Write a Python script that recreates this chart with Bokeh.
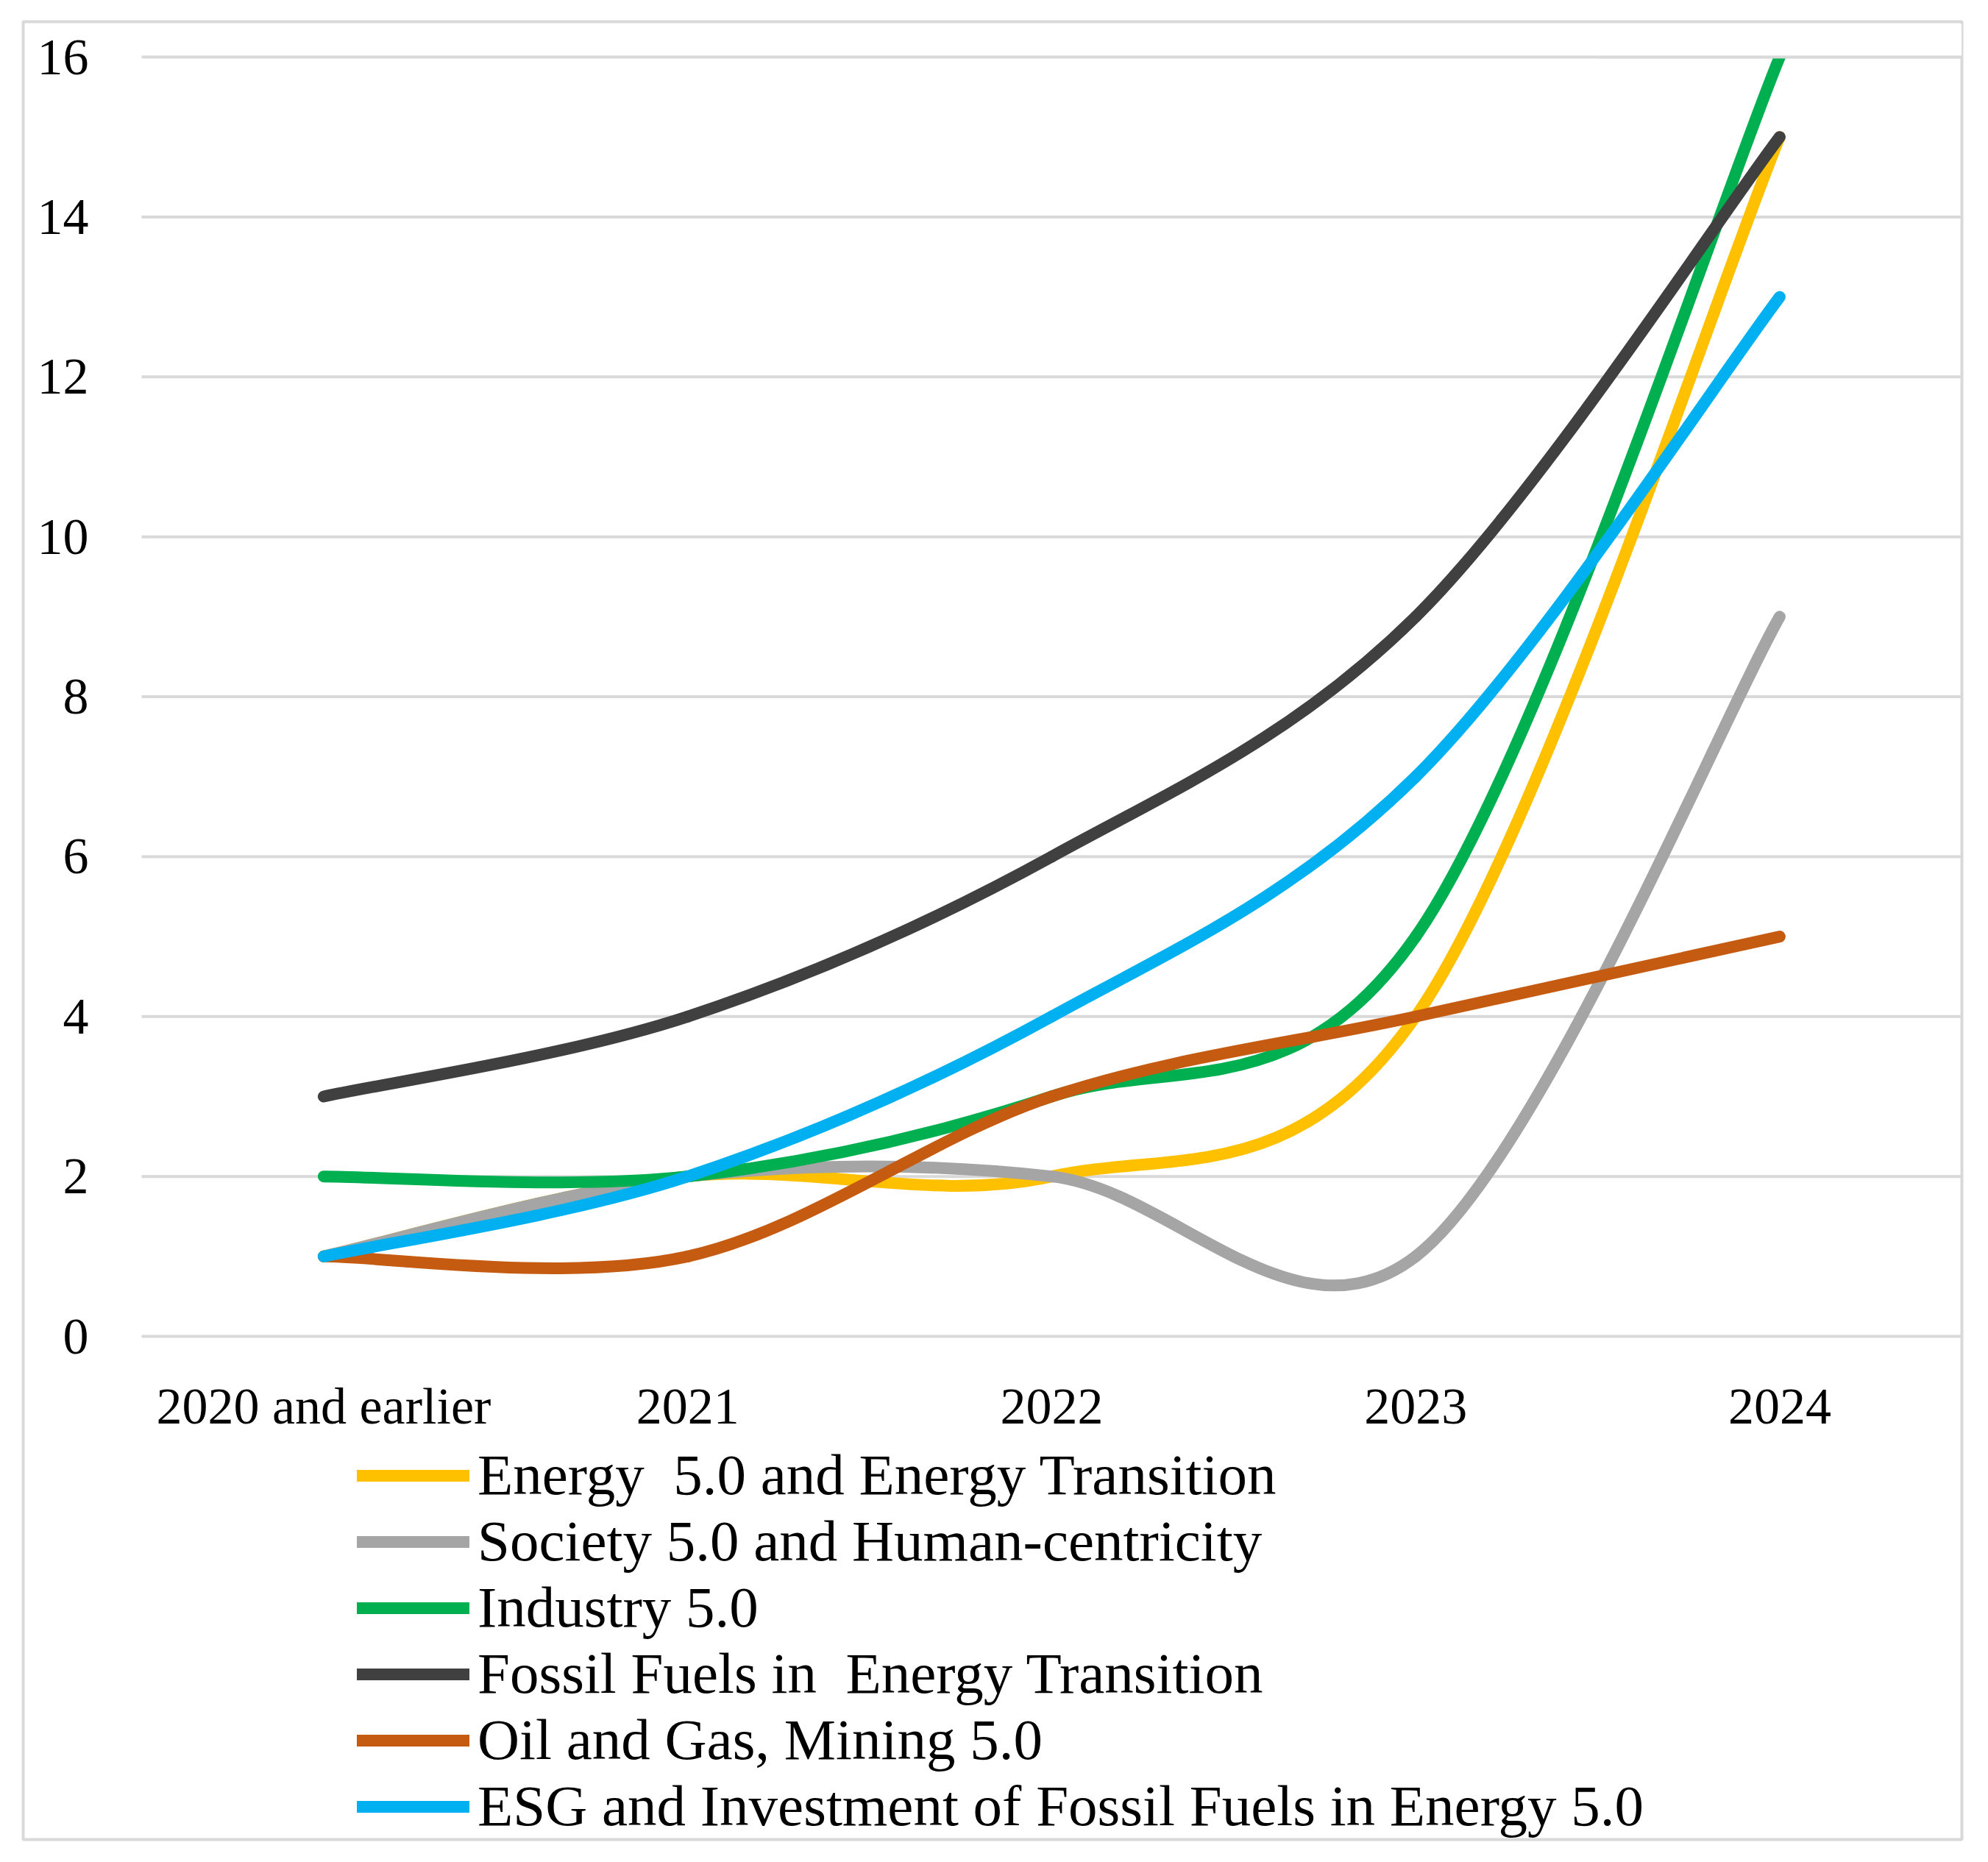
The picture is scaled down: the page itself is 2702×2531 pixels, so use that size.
from bokeh.plotting import figure
from bokeh.models import (Range1d, FixedTicker, Legend, LegendItem, ColumnDataSource,
                          BoxAnnotation)
from bokeh.embed import file_html
from bokeh.resources import INLINE

categories = ["2020 and earlier", "2021", "2022", "2023", "2024"]
series_names = [
    "Energy  5.0 and Energy Transition",
    "Society 5.0 and Human-centricity",
    "Industry 5.0",
    "Fossil Fuels in  Energy Transition",
    "Oil and Gas, Mining 5.0",
    "ESG and Investment of Fossil Fuels in Energy 5.0",
]
energy = [1, 2, 2, 4, 15]
society = [1, 2, 2, 1, 9]
industry = [2, 2, 3, 5, 16]
fossil = [3, 4, 6, 9, 15]
oil_gas = [1, 1, 3, 4, 5]
esg = [1, 2, 4, 7, 13]
colors = ["#FFC000", "#A5A5A5", "#00B050", "#404040", "#C55A11", "#00B0F0"]
y_ticks = [0, 2, 4, 6, 8, 10, 12, 14, 16]

all_series = [energy, society, industry, fossil, oil_gas, esg]

FONT = "Liberation Serif"

# layout constants (pixels)
W, H = 2690, 2515
FL, FT, FR, FB = 31, 29, 2666, 2500          # chart-area box inside the figure
PX_PER_CAT = 494.75
PX_PER_UNIT = 108.69
PLOT_LEFT_OFFSET = 161                        # from box left to first half-category
PLOT_TOP_OFFSET = 48                          # from box top to y=16

n = len(categories)
x_start = -0.5 - PLOT_LEFT_OFFSET / PX_PER_CAT
x_end = x_start + (FR - FL) / PX_PER_CAT
y_top = max(y_ticks)
y_end = y_top + PLOT_TOP_OFFSET / PX_PER_UNIT
y_start = y_end - (FB - FT) / PX_PER_UNIT

p = figure(width=W, height=H, output_backend="svg", toolbar_location=None,
           x_range=Range1d(x_start, x_end), y_range=Range1d(y_start, y_end),
           min_border_left=FL, min_border_top=FT, min_border_right=W - FR,
           min_border_bottom=H - FB)
p.outline_line_color = "#D9D9D9"
p.outline_line_width = 4
p.background_fill_color = "white"
p.border_fill_color = "white"
p.grid.visible = False

# axes drawn inside the chart box
p.xaxis.ticker = FixedTicker(ticks=list(range(n)))
p.xaxis.major_label_overrides = {i: c for i, c in enumerate(categories)}
p.yaxis.ticker = FixedTicker(ticks=y_ticks)
p.xaxis.fixed_location = 0
p.yaxis.fixed_location = -0.5
for ax in (p.xaxis[0], p.yaxis[0]):
    ax.axis_line_color = None
    ax.major_tick_line_color = None
    ax.minor_tick_line_color = None
    ax.major_tick_out = 0
    ax.major_tick_in = 0
    ax.major_label_text_font = FONT
    ax.major_label_text_font_size = "70px"
    ax.major_label_text_color = "#000000"
p.yaxis.major_label_standoff = 72
p.xaxis.major_label_standoff = 56

# smoothed lines (Excel-style Bezier segments)
def bezier_segments(vals):
    m = len(vals)
    xs = list(range(m))
    d = dict(x0=[], y0=[], x1=[], y1=[], cx0=[], cy0=[], cx1=[], cy1=[])
    for i in range(m - 1):
        im1 = max(i - 1, 0)
        ip2 = min(i + 2, m - 1)
        d["x0"].append(xs[i]); d["y0"].append(vals[i])
        d["x1"].append(xs[i + 1]); d["y1"].append(vals[i + 1])
        d["cx0"].append(xs[i] + (xs[i + 1] - xs[im1]) / 6)
        d["cy0"].append(vals[i] + (vals[i + 1] - vals[im1]) / 6)
        d["cx1"].append(xs[i + 1] - (xs[ip2] - xs[i]) / 6)
        d["cy1"].append(vals[i + 1] - (vals[ip2] - vals[i]) / 6)
    return ColumnDataSource(d)

# horizontal gridlines across the plot area
p.segment(x0=[-0.5] * len(y_ticks), x1=[n - 0.5] * len(y_ticks),
          y0=y_ticks, y1=y_ticks, line_color="#D9D9D9", line_width=4)

items = []
far = x_start - 100  # legend-only renderers sit outside the visible range
for name, vals, col in zip(series_names, all_series, colors):
    src = bezier_segments(vals)
    p.bezier(x0="x0", y0="y0", x1="x1", y1="y1", cx0="cx0", cy0="cy0",
             cx1="cx1", cy1="cy1", source=src, line_color=col, line_width=16,
             line_cap="round", line_join="round")
    lr = p.line(x=[far, far + 1], y=[far, far], line_color=col, line_width=16,
                line_cap="round")
    items.append(LegendItem(label=name, renderers=[lr]))

# the plot area ends at the top gridline: mask line caps drawn above it
p.add_layout(BoxAnnotation(left=n - 1.5, right=n - 0.5, bottom=y_top,
                           top=y_end - 3 / PX_PER_UNIT, fill_color="white",
                           fill_alpha=1, line_color=None))
p.segment(x0=[n - 1.5], x1=[n - 0.5], y0=[y_top], y1=[y_top],
          line_color="#D9D9D9", line_width=4, level="overlay")

legend = Legend(items=items, location=(454, 0), orientation="vertical",
                label_text_font=FONT, label_text_font_size="79px",
                label_text_color="#000000", glyph_width=153, glyph_height=89,
                label_height=89, label_standoff=11, spacing=0, padding=0,
                margin=0, border_line_color=None, background_fill_alpha=0)
p.add_layout(legend, "center")

open("out.html", "w").write(file_html(p, INLINE))
